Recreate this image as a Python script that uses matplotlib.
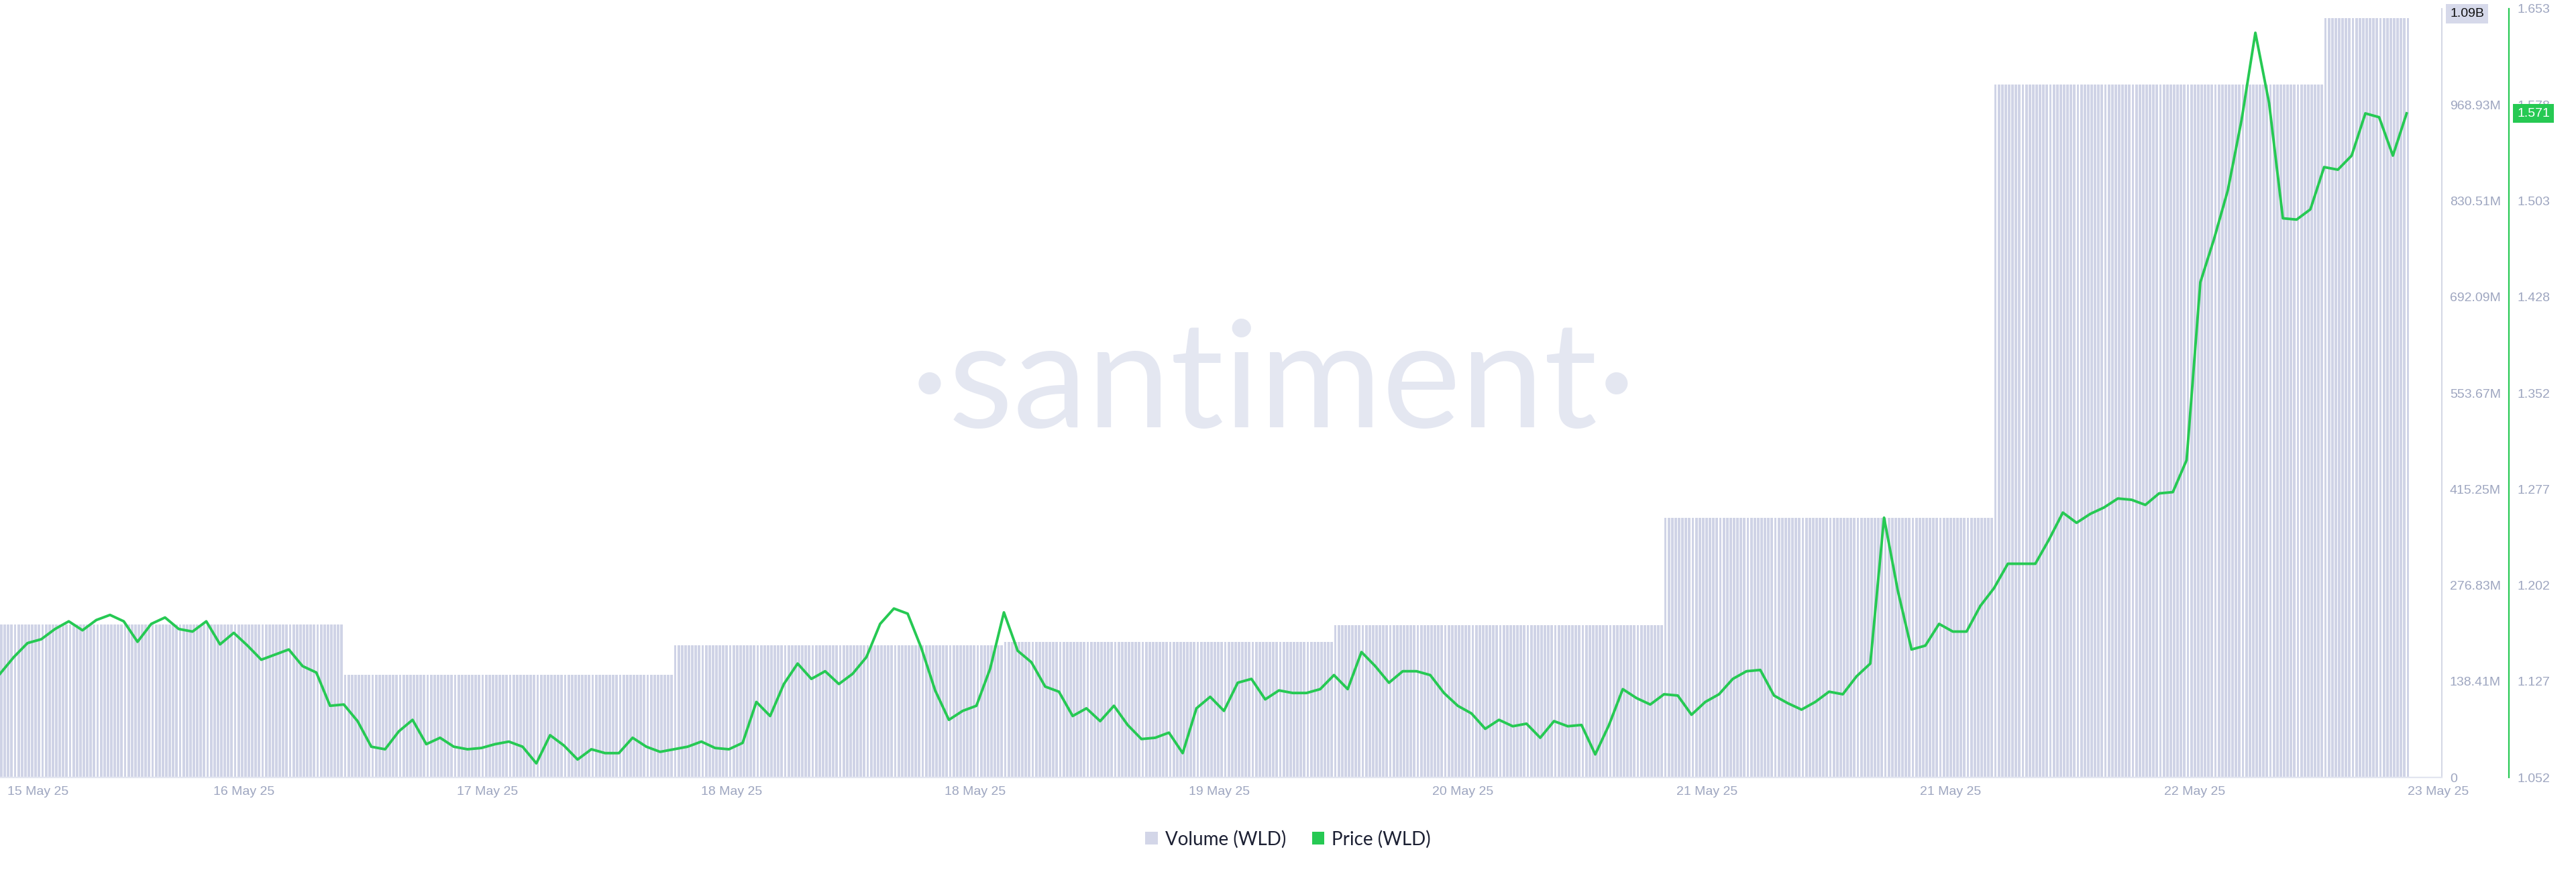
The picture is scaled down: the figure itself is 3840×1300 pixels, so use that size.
import numpy as np
import matplotlib
matplotlib.use("Agg")
import matplotlib.pyplot as plt
from matplotlib.patches import Patch
from matplotlib.transforms import blended_transform_factory

# ---------------- data ----------------
# hourly WLD price, hour 0 = left edge of chart
price = [1.133, 1.146, 1.157, 1.160, 1.168, 1.174, 1.167, 1.175, 1.179, 1.174,
         1.158, 1.172, 1.177, 1.168, 1.166, 1.174, 1.156, 1.165, 1.155, 1.144,
         1.148, 1.152, 1.139, 1.134, 1.108, 1.109, 1.096, 1.076, 1.074, 1.088,
         1.097, 1.078, 1.083, 1.076, 1.074, 1.075, 1.078, 1.080, 1.076, 1.063,
         1.085, 1.077, 1.066, 1.074, 1.071, 1.071, 1.083, 1.076, 1.072, 1.074,
         1.076, 1.080, 1.075, 1.074, 1.079, 1.111, 1.100, 1.125, 1.141, 1.129,
         1.135, 1.125, 1.133, 1.146, 1.172, 1.184, 1.180, 1.153, 1.120, 1.097,
         1.104, 1.108, 1.137, 1.181, 1.151, 1.142, 1.123, 1.119, 1.100, 1.106,
         1.096, 1.108, 1.093, 1.082, 1.083, 1.087, 1.071, 1.106, 1.115, 1.104,
         1.126, 1.129, 1.113, 1.120, 1.118, 1.118, 1.121, 1.132, 1.121, 1.150,
         1.139, 1.126, 1.135, 1.135, 1.132, 1.118, 1.108, 1.102, 1.090, 1.097,
         1.092, 1.094, 1.083, 1.096, 1.092, 1.093, 1.070, 1.093, 1.121, 1.114,
         1.109, 1.117, 1.116, 1.101, 1.111, 1.117, 1.129, 1.135, 1.136, 1.116,
         1.110, 1.105, 1.111, 1.119, 1.117, 1.131, 1.141, 1.255, 1.198, 1.152,
         1.155, 1.172, 1.166, 1.166, 1.186, 1.200, 1.219, 1.219, 1.219, 1.238,
         1.259, 1.251, 1.258, 1.263, 1.270, 1.269, 1.265, 1.274, 1.275, 1.300,
         1.439, 1.473, 1.511, 1.566, 1.634, 1.579, 1.489, 1.488, 1.496, 1.529,
         1.527, 1.538, 1.571, 1.568, 1.538, 1.571]
hours = np.arange(len(price))

# daily volume (WLD), shown on every 15-minute bar of that day
volume_daily = [220.3e6, 148.1e6, 190.1e6, 194.9e6, 219.3e6, 374.0e6, 997.9e6, 1.094e9]
day_bounds = [25, 49, 73, 97, 121, 145, 169]       # hours where a new day starts
bar_end = 175.0

x_tick_labels = ["15 May 25", "16 May 25", "17 May 25", "18 May 25", "18 May 25",
                 "19 May 25", "20 May 25", "21 May 25", "21 May 25", "22 May 25", "23 May 25"]
vol_tick_labels = ["0", "138.41M", "276.83M", "415.25M", "553.67M", "692.09M",
                   "830.51M", "968.93M", "1.1B"]
price_tick_labels = ["1.052", "1.127", "1.202", "1.277", "1.352", "1.428",
                     "1.503", "1.578", "1.653"]
vol_max = 1107.35e6
price_min, price_max = 1.052, 1.6528
last_vol_label = "1.09B"
last_price_label = "1.571"

# ---------------- style ----------------
BAR = "#cfd3e6"
GREEN = "#26c953"
TICK = "#9ea6c0"
SPINE = "#d3d6e5"
TICKFONT = ["Liberation Sans", "DejaVu Sans"]

fig = plt.figure(figsize=(38.4, 13), dpi=100)
ax = fig.add_axes([0.0, 0.10846, 0.94792, 0.88154])
ax2 = ax.twinx()

# watermark
ax.text(0.4943, 0.5577, "·santiment·", transform=fig.transFigure, ha="center", va="center",
        fontsize=160, color="#e4e7f1", family=["Lato", "DejaVu Sans"], fontweight="normal",
        zorder=0)

# volume bars
bar_t = np.arange(0, bar_end + 0.001, 0.25)
seg = np.searchsorted(day_bounds, bar_t, side="right")
bar_v = np.array(volume_daily)[seg]
ax.bar(bar_t, bar_v, width=0.19, align="edge", color=BAR, linewidth=0, zorder=1)

# price line
ax2.plot(hours, price, color=GREEN, lw=2.8, solid_joinstyle="round", zorder=3)

# limits
ax.set_xlim(0, 177.56)
ax.set_ylim(0, vol_max)
ax2.set_ylim(price_min, price_max)

# spines
for a in (ax, ax2):
    a.spines["top"].set_visible(False)
    a.spines["left"].set_visible(False)
ax2.spines["bottom"].set_visible(False)
ax.spines["bottom"].set_color("#e2e5f0")
ax.spines["bottom"].set_linewidth(1.6)
ax.spines["right"].set_color(SPINE)
ax.spines["right"].set_linewidth(1.4)
ax2.spines["right"].set_position(("axes", 3740 / 3640))
ax2.spines["right"].set_color(GREEN)
ax2.spines["right"].set_linewidth(1.6)

# x ticks
xt = [2.78] + list(np.arange(1, 11) * 17.73)
ax.set_xticks(xt)
ax.set_xticklabels(x_tick_labels)
ax.tick_params(axis="x", length=0, pad=9, labelsize=14, labelcolor=TICK)

# volume y ticks (right side)
ax.yaxis.tick_right()
ax.set_yticks(np.linspace(0, vol_max, 9))
ax.set_yticklabels(vol_tick_labels)
ax.tick_params(axis="y", length=0, pad=8.5, labelsize=14, labelcolor=TICK)

# price y ticks
ax2.set_yticks(np.linspace(price_min, price_max, 9))
ax2.set_yticklabels(price_tick_labels)
ax2.tick_params(axis="y", length=0, pad=9.3, labelsize=14, labelcolor=TICK)

for lab in ax.get_xticklabels() + ax.get_yticklabels() + ax2.get_yticklabels():
    lab.set_family(TICKFONT)

# last value labels
tr1 = blended_transform_factory(ax.transAxes, ax.transData)
ax.text(3652 / 3640, volume_daily[-1] + 6e6, last_vol_label, transform=tr1, ha="left",
        va="center", fontsize=14, color="#111111", family=TICKFONT, zorder=5, clip_on=False,
        bbox=dict(boxstyle="square,pad=0.3", fc="#d6d9ea", ec="none"))
tr2 = blended_transform_factory(ax2.transAxes, ax2.transData)
ax2.text(3752 / 3640, price[-1], last_price_label, transform=tr2, ha="left", va="center",
         fontsize=14, color="white", family=TICKFONT, zorder=5, clip_on=False,
         bbox=dict(boxstyle="square,pad=0.3", fc=GREEN, ec="none"))

# legend
handles = [Patch(facecolor="#d3d6e8", edgecolor="none", label="Volume (WLD)"),
           Patch(facecolor=GREEN, edgecolor="none", label="Price (WLD)")]
fig.legend(handles=handles, loc="center", bbox_to_anchor=(0.5, 0.0377), ncol=2, frameon=False,
           prop={"family": ["Lato", "DejaVu Sans"], "size": 20}, labelcolor="#1c2033",
           handlelength=0.65, handleheight=0.65, handletextpad=0.4, columnspacing=1.4)

fig.savefig("out.png", dpi=100, facecolor="white")
